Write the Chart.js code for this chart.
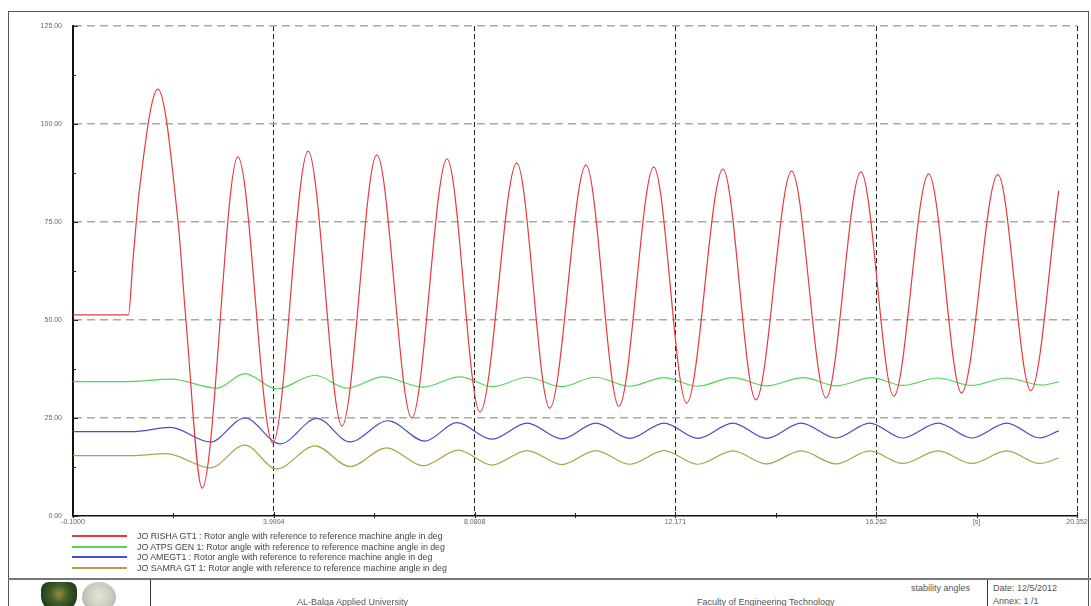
<!DOCTYPE html>
<html lang="en">
<head>
    <meta charset="UTF-8">
    <title>stability angles</title>
    <style>
        body {
            margin: 0;
            padding: 0;
            background: #fff;
            font-family: "Liberation Sans", Arial, sans-serif;
            color: #444;
        }

        #sheet {
            position: relative;
            width: 1091px;
            height: 606px;
            overflow: hidden;
        }

        #frame {
            position: absolute;
            left: 8px;
            top: 11px;
            width: 1081px;
            height: 620px;
            border: 1px solid #555;
            box-sizing: border-box;
        }

        #chartBox {
            position: absolute;
            left: 0;
            top: 0;
            width: 1091px;
            height: 534px;
        }

        .legendRow {
            position: absolute;
            left: 72px;
            height: 10px;
            font-size: 8.8px;
            line-height: 10px;
            color: #444;
            white-space: nowrap;
        }

        .legendRow span.swatch {
            position: absolute;
            left: 0;
            top: 4px;
            width: 55px;
            height: 2px;
        }

        .legendRow span.txt {
            position: absolute;
            left: 65px;
            top: 0;
        }

        #footer {
            position: absolute;
            left: 8px;
            top: 578px;
            width: 1083px;
            height: 40px;
            border-top: 2px solid #777;
        }

        .vline {
            position: absolute;
            top: 0;
            width: 1px;
            height: 40px;
            background: #333;
        }

        .ftxt {
            position: absolute;
            font-size: 9px;
            color: #555;
            white-space: nowrap;
        }

        #logo1 {
            position: absolute;
            left: 33px;
            top: 2px;
            width: 36px;
            height: 30px;
            border-radius: 8px 8px 16px 16px;
            background: radial-gradient(circle at 50% 40%, #9a8a3a 0, #3f5e2a 35%, #1f3a17 75%);
        }

        #logo2 {
            position: absolute;
            left: 74px;
            top: 2px;
            width: 34px;
            height: 30px;
            border-radius: 50%;
            background: radial-gradient(circle at 50% 45%, #e6e6d8 0, #c9c9bd 55%, #9d9d95 100%);
        }
    </style>
</head>
<body>
<div id="sheet">
    <div id="frame"></div>
    <div id="chartBox"><canvas id="chart"></canvas></div>
    <div id="legend"></div>
    <div id="footer">
        <div id="logo1"></div>
        <div id="logo2"></div>
        <div class="vline" style="left: 142px;"></div>
        <div class="ftxt" style="left: 289px; top: 17px;">AL-Balqa Applied University</div>
        <div class="ftxt" style="left: 689px; top: 17px;">Faculty of Engineering Technology</div>
        <div class="ftxt" style="left: 903px; top: 3px;">stability angles</div>
        <div class="vline" style="left: 979px;"></div>
        <div class="ftxt" style="left: 985px; top: 3px;">Date: 12/5/2012</div>
        <div class="ftxt" style="left: 985px; top: 16px;">Annex: 1 /1</div>
    </div>
</div>

<script src="https://cdn.jsdelivr.net/npm/chart.js"></script>
<script>
    // time axis ticks (major + minor), labels as printed on the plot
    const xTicks = [-0.1, 1.9452, 3.9904, 6.0356, 8.0808, 10.126, 12.171, 14.217, 16.262, 18.307, 20.352];
    const xTickLabels = ['-0.1000', '', '3.9904', '', '8.0808', '', '12.171', '', '16.262', '[s]', '20.352'];
    const yTicks = [0, 12.5, 25, 37.5, 50, 62.5, 75, 87.5, 100, 112.5, 125];
    const yTickLabels = ['0.00', '', '25.00', '', '50.00', '', '75.00', '', '100.00', '', '125.00'];

    const seriesNames = [
        'JO RISHA GT1 : Rotor angle with reference to reference machine angle in deg',
        'JO ATPS GEN 1: Rotor angle with reference to reference machine angle in deg',
        'JO AMEGT1 : Rotor angle with reference to reference machine angle in deg',
        'JO SAMRA GT 1: Rotor angle with reference to reference machine angle in deg'
    ];
    const seriesColors = ['#e8383c', '#55d655', '#4a4ad0', '#b0a24a'];

    // JO RISHA GT1 (turning points)
    const rishaT = [-0.1, 1.03, 1.12, 1.26, 1.63, 2.04, 2.20, 2.53, 3.26, 3.97, 4.69, 5.38, 6.09, 6.80, 7.52, 8.19, 8.94, 9.61, 10.35, 11.02, 11.73, 12.40, 13.14, 13.81, 14.54, 15.24, 15.95, 16.62, 17.33, 18.00, 18.74, 19.41, 19.98];
    const rishaV = [51.3, 51.3, 65, 84, 108.9, 75, 50, 7.1, 91.6, 18.6, 93.1, 23.0, 92.1, 25.0, 91.1, 26.5, 90.0, 27.5, 89.5, 28.0, 89.0, 28.8, 88.5, 29.6, 88.0, 30.1, 87.8, 30.6, 87.3, 31.4, 87.1, 32.0, 83.0];

    // JO ATPS GEN 1
    const atpsT = [-0.1, 1.0, 1.90, 2.83, 3.40, 4.05, 4.83, 5.48, 6.21, 7.03, 7.78, 8.45, 9.15, 9.85, 10.53, 11.24, 11.94, 12.63, 13.34, 14.03, 14.77, 15.45, 16.17, 16.80, 17.52, 18.20, 18.92, 19.63, 19.98];
    const atpsV = [34.3, 34.3, 34.9, 32.6, 36.3, 32.4, 35.9, 32.6, 35.5, 32.9, 35.5, 33.0, 35.4, 33.0, 35.4, 33.1, 35.3, 33.1, 35.3, 33.2, 35.3, 33.2, 35.3, 33.3, 35.2, 33.3, 35.2, 33.4, 34.2];

    // JO AMEGT1
    const ameT = [-0.1, 1.1, 1.88, 2.70, 3.40, 4.12, 4.87, 5.54, 6.32, 7.07, 7.72, 8.43, 9.15, 9.86, 10.55, 11.24, 11.94, 12.63, 13.34, 14.03, 14.73, 15.44, 16.13, 16.80, 17.52, 18.21, 18.92, 19.59, 19.98];
    const ameV = [21.5, 21.5, 22.6, 18.9, 25.0, 18.4, 24.9, 18.9, 24.3, 19.1, 23.8, 19.6, 23.7, 19.7, 23.7, 19.8, 23.7, 19.8, 23.7, 19.8, 23.7, 19.9, 23.7, 19.9, 23.7, 19.9, 23.7, 19.9, 21.7];

    // JO SAMRA GT 1
    const samraT = [-0.1, 1.1, 1.80, 2.70, 3.40, 4.05, 4.83, 5.54, 6.29, 7.03, 7.75, 8.43, 9.15, 9.86, 10.55, 11.24, 11.94, 12.63, 13.34, 14.03, 14.73, 15.44, 16.13, 16.80, 17.52, 18.21, 18.92, 19.59, 19.98];
    const samraV = [15.4, 15.4, 15.9, 12.3, 18.1, 12.0, 17.9, 12.6, 17.4, 12.8, 16.8, 13.0, 16.7, 13.1, 16.7, 13.2, 16.7, 13.2, 16.6, 13.3, 16.6, 13.3, 16.6, 13.4, 16.6, 13.4, 16.6, 13.4, 14.8];

    const allT = [rishaT, atpsT, ameT, samraT];
    const allV = [rishaV, atpsV, ameV, samraV];

    // legend rows below the plot
    const legendTops = [531, 541.5, 552, 562.5];
    const legend = document.getElementById('legend');
    seriesNames.forEach((name, i) => {
        const row = document.createElement('div');
        row.className = 'legendRow';
        row.style.top = legendTops[i] + 'px';
        row.innerHTML = `<span class="swatch" style="background:${seriesColors[i]}"></span><span class="txt">${name}</span>`;
        legend.appendChild(row);
    });

    const isMajor = (arr, v) => arr.indexOf(v) % 2 === 0;

    // small tick marks sitting on the axes
    const tickMarks = {
        id: 'tickMarks',
        afterDraw(chart) {
            const {ctx, chartArea, scales: {x, y}} = chart;
            ctx.save();
            ctx.strokeStyle = '#222';
            ctx.lineWidth = 1;
            xTicks.forEach((v, i) => {
                const px = Math.round(x.getPixelForValue(v)) + 0.5;
                const len = i % 2 === 0 ? 4 : 3;
                ctx.beginPath();
                ctx.moveTo(px, chartArea.bottom - len);
                ctx.lineTo(px, chartArea.bottom + 2);
                ctx.stroke();
            });
            yTicks.forEach((v, i) => {
                const py = Math.round(y.getPixelForValue(v)) + 0.5;
                const len = i % 2 === 0 ? 5 : 3;
                ctx.beginPath();
                ctx.moveTo(chartArea.left - 1, py);
                ctx.lineTo(chartArea.left + len, py);
                ctx.stroke();
            });
            ctx.restore();
        }
    };

    const ctx = document.getElementById('chart').getContext('2d');
    new Chart(ctx, {
        type: 'line',
        data: {
            datasets: seriesNames.map((name, i) => ({
                label: name,
                data: allT[i].map((t, k) => ({x: t, y: allV[i][k]})),
                borderColor: seriesColors[i],
                borderWidth: 1.2,
                pointRadius: 0,
                fill: false,
                cubicInterpolationMode: 'monotone'
            }))
        },
        options: {
            responsive: true,
            maintainAspectRatio: false,
            animation: false,
            layout: {
                padding: {top: 26, right: 14, left: 0, bottom: 0}
            },
            plugins: {
                legend: {display: false},
                tooltip: {enabled: false}
            },
            scales: {
                x: {
                    type: 'linear',
                    min: -0.1,
                    max: 20.352,
                    afterBuildTicks: s => { s.ticks = xTicks.map(v => ({value: v})); },
                    afterFit: s => { s.height = 18; },
                    ticks: {
                        autoSkip: false,
                        maxRotation: 0,
                        padding: 2,
                        color: '#666',
                        font: {family: '"Liberation Sans", Arial', size: 7},
                        callback: (val, i) => xTickLabels[i]
                    },
                    grid: {
                        drawTicks: false,
                        lineWidth: 1,
                        color: c => (c.index > 0 && isMajor(xTicks, xTicks[c.index])) ? '#222' : 'rgba(0,0,0,0)'
                    },
                    border: {display: true, color: '#111', width: 1.5, dash: [5, 3]}
                },
                y: {
                    type: 'linear',
                    min: 0,
                    max: 125,
                    afterBuildTicks: s => { s.ticks = yTicks.map(v => ({value: v})); },
                    afterFit: s => { s.width = 73; },
                    ticks: {
                        autoSkip: false,
                        padding: 11,
                        color: '#666',
                        font: {family: '"Liberation Sans", Arial', size: 7},
                        callback: (val, i) => yTickLabels[i]
                    },
                    grid: {
                        drawTicks: false,
                        lineWidth: 1.5,
                        color: c => (c.index > 0 && isMajor(yTicks, yTicks[c.index])) ? '#a8a8a8' : 'rgba(0,0,0,0)'
                    },
                    border: {display: true, color: '#111', width: 2, dash: [8, 5]}
                }
            }
        },
        plugins: [tickMarks]
    });
</script>
</body>
</html>
